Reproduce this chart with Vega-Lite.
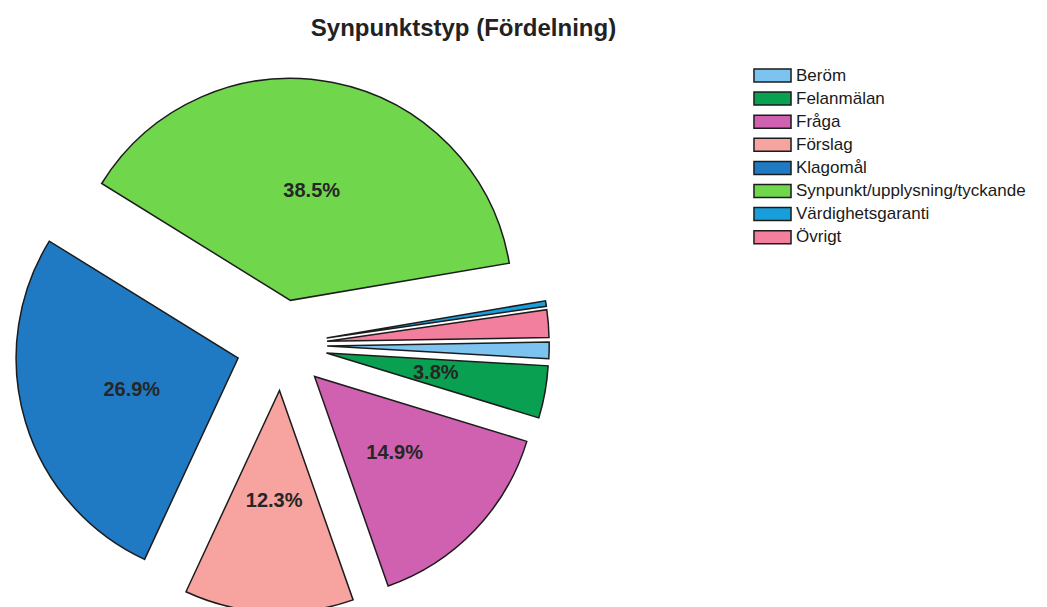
{
  "$schema": "https://vega.github.io/schema/vega-lite/v6.json",
  "width": 1047,
  "height": 552,
  "autosize": {"type": "none"},
  "padding": {"left": 0, "right": 0, "top": 55, "bottom": 0},
  "background": "white",
  "title": {
    "text": "Synpunktstyp (Fördelning)",
    "font": "Liberation Sans",
    "fontSize": 24,
    "fontWeight": "bold",
    "color": "#222222",
    "anchor": "middle",
    "frame": "group",
    "dx": -60,
    "offset": 14
  },
  "data": {
    "values": [
      {"typ": "Beröm", "share": 0.012},
      {"typ": "Felanmälan", "share": 0.038},
      {"typ": "Fråga", "share": 0.149},
      {"typ": "Förslag", "share": 0.123},
      {"typ": "Klagomål", "share": 0.269},
      {"typ": "Synpunkt/upplysning/tyckande", "share": 0.385},
      {"typ": "Värdighetsgaranti", "share": 0.004},
      {"typ": "Övrigt", "share": 0.020}
    ]
  },
  "transform": [
    {"stack": "share", "groupby": [], "sort": [{"field": "typ", "order": "ascending"}], "as": ["s0", "s1"]},
    {"calculate": "(datum.s0 + datum.s1) / 2", "as": "sm"},
    {"calculate": "1.5533 + 2 * PI * datum.sm", "as": "mid"},
    {"calculate": "45.5 * sin(datum.mid)", "as": "ex"},
    {"calculate": "45.5 * cos(datum.mid)", "as": "ey"}
  ],
  "config": {"view": {"stroke": null}},
  "layer": [
    {
      "mark": {"type": "arc", "outerRadius": 222, "stroke": "#1c1c1c", "strokeWidth": 1.5},
      "encoding": {
        "x": {"field": "ex", "type": "quantitative", "scale": {"domain": [-281.7, 765.3], "nice": false, "zero": false}, "axis": null},
        "y": {"field": "ey", "type": "quantitative", "scale": {"domain": [-262, 290], "nice": false, "zero": false}, "axis": null},
        "theta": {"field": "s0", "type": "quantitative", "scale": {"domain": [0, 1], "range": [1.5533, 7.8365]}},
        "theta2": {"field": "s1"},
        "color": {
          "field": "typ",
          "type": "nominal",
          "scale": {
            "domain": ["Beröm", "Felanmälan", "Fråga", "Förslag", "Klagomål", "Synpunkt/upplysning/tyckande", "Värdighetsgaranti", "Övrigt"],
            "range": ["#7cc3f0", "#0aa052", "#cf61b0", "#f7a39f", "#1f7ac3", "#70d64c", "#189fdb", "#f37f9f"]
          },
          "legend": {
            "orient": "none",
            "legendX": 764,
            "legendY": 12,
            "title": null,
            "padding": 0,
            "symbolType": "M-2.85,-1H2.85V1H-2.85Z",
            "symbolSize": 169,
            "symbolStrokeColor": "#1c1c1c",
            "symbolStrokeWidth": 1.5,
            "symbolOpacity": 1,
            "labelFont": "Liberation Sans",
            "labelFontSize": 17,
            "labelColor": "#1a1a1a",
            "labelOffset": 15,
            "rowPadding": 4.1,
            "labelLimit": 400
          }
        }
      }
    },
    {
      "transform": [{"filter": "datum.share >= 0.03"}],
      "mark": {"type": "text", "radius": 111, "font": "Liberation Sans", "fontSize": 20, "fontWeight": "bold", "color": "#262626"},
      "encoding": {
        "x": {"field": "ex", "type": "quantitative"},
        "y": {"field": "ey", "type": "quantitative"},
        "theta": {"field": "sm", "type": "quantitative"},
        "text": {"field": "share", "type": "quantitative", "format": ".1%"}
      }
    }
  ]
}
